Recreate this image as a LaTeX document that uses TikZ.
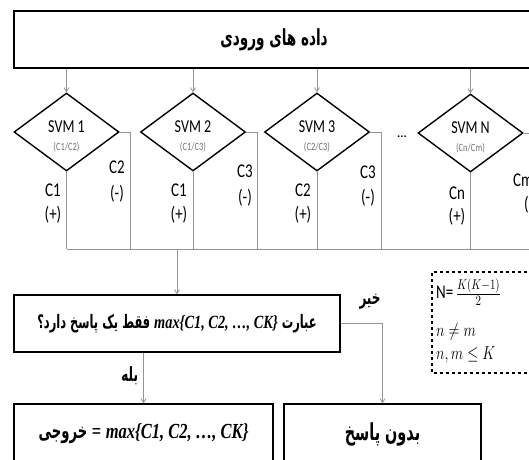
\documentclass[tikz,border=0pt]{standalone}
\usepackage{graphicx}
\usepackage{fontspec}
\setmainfont{Carlito}
\newfontfamily\arabicfont[Script=Arabic,FakeStretch=0.8]{DejaVu Sans}
\newfontfamily\mathlike{Liberation Serif}
\TeXXeTstate=1
\usetikzlibrary{shapes.geometric,arrows.meta}
\newcommand{\maxset}{{\mathlike\bfseries\itshape max\{C1, C2, …, CK\}}}
\newcommand{\vs}[1]{\scalebox{1}[1.3]{#1}}
\begin{document}
\begin{tikzpicture}[x=1pt,y=-1pt,
  box/.style={draw=black,line width=1.4pt,rectangle,minimum height=57pt,inner sep=0pt},
  dia/.style={draw=black,line width=1.4pt,diamond,minimum width=105pt,minimum height=78pt,inner sep=0pt},
  conn/.style={draw=black!42,line width=0.8pt},
  arr/.style={conn,-{Straight Barb[length=4pt,width=5pt]}},
  lab/.style={font=\fontsize{15}{17}\selectfont,inner sep=0pt},
  svm/.style={font=\fontsize{14}{16}\selectfont,inner sep=0pt},
  sub/.style={font=\fontsize{8.5}{9}\selectfont,text=black!55,inner sep=0pt},
  fa/.style={font=\arabicfont\bfseries\fontsize{15}{17}\selectfont,inner sep=0pt},
  note/.style={draw=black,line width=1.4pt,dashed},
  ntext/.style={anchor=west,inner sep=0pt,font=\fontsize{15}{17}\selectfont}]
\useasboundingbox (0,0) rectangle (529,459);
\clip (0,0) rectangle (529,459);
% input box
\node[box,minimum width=520pt,fa,font=\arabicfont\bfseries\fontsize{17}{19}\selectfont] (in) at (274,39.5) {\vs{\beginR داده های ورودی\endR}};
% diamonds
\node[dia] (d1) at (66.5,132) {};
\node[dia] (d2) at (193,132) {};
\node[dia] (d3) at (317,132) {};
\node[dia] (dN) at (470.5,133) {};
\node[svm] (s1) at (66.5,127) {\vs{SVM 1}};
\node[sub] (t1) at (66.5,147) {\vs{(C1/C2)}};
\node[svm] (s2) at (193,127) {\vs{SVM 2}};
\node[sub] (t2) at (193,147) {\vs{(C1/C3)}};
\node[svm] (s3) at (317,127) {\vs{SVM 3}};
\node[sub] (t3) at (317,147) {\vs{(C2/C3)}};
\node[svm] (sN) at (470.5,128) {\vs{SVM N}};
\node[sub] (tN) at (470.5,148) {\vs{(Cn/Cm)}};
\node[svm,font=\bfseries\fontsize{12}{14}\selectfont] (dots) at (402,137) {...};
% arrows from input
\foreach \d in {d1,d2,d3,dN} \draw[arr] (\d.north |- in.south) -- (\d.north);
% bus
\coordinate (bus) at (0,249);
\coordinate (r1) at (130,132);
\coordinate (r2) at (257,132);
\coordinate (r3) at (381,132);
\coordinate (rN) at (535,133);
\foreach \d in {d1,d2,d3,dN} \draw[conn] (\d.south) -- (\d.south |- bus);
\draw[conn] (d1.east) -- (r1) -- (r1 |- bus);
\draw[conn] (d2.east) -- (r2) -- (r2 |- bus);
\draw[conn] (d3.east) -- (r3) -- (r3 |- bus);
\draw[conn] (dN.east) -- (rN) -- (rN |- bus);
\coordinate (busend) at (540,249);
\draw[conn] (d1.south |- bus) -- (busend);
% labels
\node[lab] (a1) at (53,190) {\vs{C1}};
\node[lab] (p1) at (53,215) {\vs{(+)}};
\node[lab] (b1) at (117,167) {\vs{C2}};
\node[lab] (m1) at (117,194) {\vs{(-)}};
\node[lab] (a2) at (179,190) {\vs{C1}};
\node[lab] (p2) at (179,215) {\vs{(+)}};
\node[lab] (b2) at (245,171) {\vs{C3}};
\node[lab] (m2) at (245,198) {\vs{(-)}};
\node[lab] (a3) at (303,190) {\vs{C2}};
\node[lab] (p3) at (303,215) {\vs{(+)}};
\node[lab] (b3l) at (368,172) {\vs{C3}};
\node[lab] (m3) at (368,198) {\vs{(-)}};
\node[lab] (aN) at (457,193) {\vs{Cn}};
\node[lab] (pN) at (457,217) {\vs{(+)}};
\node[lab] (bN) at (523,180) {\vs{Cm}};
\node[lab] (mN) at (531,205) {\vs{(-)}};
% question box
\node[box,minimum width=326pt,fa,font=\arabicfont\bfseries\fontsize{14.3}{16}\selectfont] (q) at (177,323.5)
  {\vs{\beginR عبارت \beginL\maxset\endL{} فقط یک پاسخ دارد؟\endR}};
\draw[arr] (q.north |- bus) -- (q.north);
% output boxes
\node[box,minimum width=259pt,minimum height=60pt,fa,font=\arabicfont\bfseries\fontsize{16.5}{18}\selectfont] (o) at (143.5,434)
  {\vs{\beginR خروجی\endR{} {\mathlike\bfseries =} \maxset}};
\node[box,minimum width=197pt,minimum height=60pt,fa,font=\arabicfont\bfseries\fontsize{18}{20}\selectfont] (nr) at (382.5,434) {\vs{\beginR بدون پاسخ\endR}};
\draw[arr] (q.south -| o.north) -- node[fa,pos=0.45,left=5pt] (yes) {\vs{\beginR بله\endR}} (o.north);
\draw[arr] (q.east) -| (nr.north);
\node[fa] (no) at (370,302) {\vs{\beginR خیر\endR}};
% note box
\draw[note] (545,272) -- (432,272) -- (432,373) -- (545,373);
\node[ntext] (f1) at (436,292) {\vs{N=\,$\frac{K(K-1)}{2}$}};
\node[ntext] (f2) at (436,332) {\vs{$n\neq m$}};
\node[ntext] (f3) at (436,355) {\vs{$n,m\leq K$}};
\end{tikzpicture}
\end{document}
